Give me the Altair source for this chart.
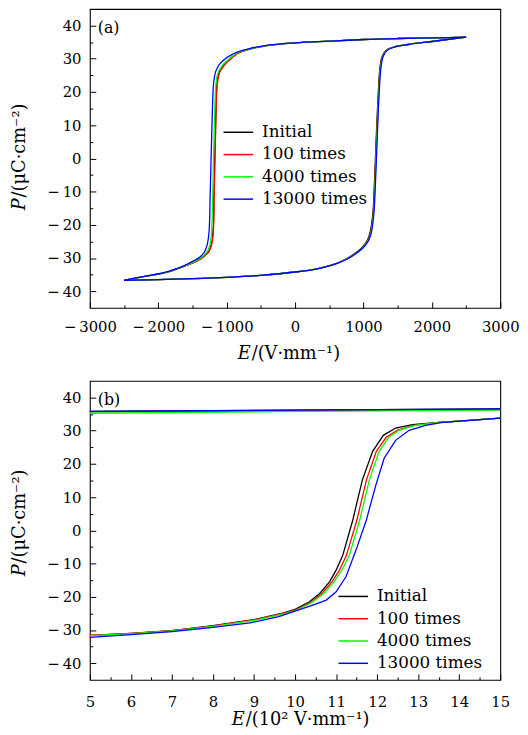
import altair as alt
import pandas as pd

FONT = "DejaVu Serif"
SERIES = ["Initial", "100 times", "4000 times", "13000 times"]
COLORS = ["#000000", "#ff0000", "#00ff00", "#0000ff"]

# ---------------- Panel (a): full loops, E in V/mm, P in uC/cm2 ----------------
A_LOW_P = [-36.7, -36.5, -36.2, -35.8, -35.2, -34.2, -33.3, -32.0, -30.3, -28.5, -26.3, -23.5, -20.3,
           -14.4, -5.0, 5.5, 15.0, 22.0, 25.4, 29.4, 31.2, 32.3, 33.4, 34.3, 35.2, 36.5]
A_LOW_E = {
    "Initial":     [-2500, -2000, -1500, -1000, -500, 0, 300, 550, 745, 880, 1000, 1080, 1115, 1145, 1165,
                    1185, 1205, 1222, 1232, 1255, 1285, 1320, 1420, 1650, 2000, 2500],
    "100 times":   [-2500, -2000, -1500, -1000, -500, 0, 302, 555, 752, 888, 1008, 1088, 1122, 1151, 1171,
                    1190, 1210, 1227, 1238, 1261, 1290, 1325, 1425, 1652, 2000, 2500],
    "4000 times":  [-2500, -2000, -1500, -1000, -500, 0, 305, 560, 758, 894, 1014, 1093, 1127, 1155, 1175,
                    1194, 1213, 1230, 1241, 1265, 1295, 1330, 1430, 1655, 2000, 2500],
    "13000 times": [-2500, -2000, -1500, -1000, -500, 0, 310, 565, 765, 900, 1020, 1098, 1132, 1160, 1180,
                    1200, 1218, 1235, 1246, 1270, 1300, 1335, 1435, 1660, 2000, 2500],
}
A_UP_P = [36.5, 36.3, 36.1, 35.8, 35.3, 34.8, 34.0, 33.0, 31.5, 29.5, 27.5, 25.0, 20.0, 10.0, 0.0,
          -10.0, -20.0, -25.0, -27.5, -29.3, -31.0, -32.3, -34.0, -35.4, -36.7]
A_UP_E = {
    "Initial":     [2500, 2000, 1500, 1000, 500, 0, -400, -650, -850, -975, -1065, -1125, -1150, -1163,
                    -1175, -1185, -1194, -1215, -1250, -1322, -1450, -1600, -1830, -2150, -2500],
    "100 times":   [2500, 2000, 1500, 1000, 500, 0, -395, -645, -845, -965, -1055, -1115, -1146, -1159,
                    -1171, -1181, -1190, -1210, -1245, -1320, -1445, -1595, -1825, -2150, -2500],
    "4000 times":  [2500, 2000, 1500, 1000, 500, 0, -405, -660, -865, -990, -1080, -1138, -1165, -1180,
                    -1192, -1203, -1215, -1236, -1272, -1340, -1465, -1610, -1838, -2155, -2500],
    "13000 times": [2500, 2000, 1500, 1000, 500, 0, -420, -680, -900, -1050, -1130, -1175, -1200, -1215,
                    -1228, -1240, -1252, -1275, -1310, -1370, -1500, -1620, -1850, -2160, -2500],
}

# ---------------- Panel (b): zoom, E in 10^2 V/mm ----------------
B_LOW_E = {
    "Initial":     [4.5, 5.0, 6.0, 7.0, 8.0, 9.0, 9.7, 10.0, 10.35, 10.6, 10.84, 11.0, 11.16, 11.40, 11.64,
                    11.89, 12.15, 12.45, 12.86, 13.5, 14.0, 15.0, 15.5],
    "100 times":   [4.5, 5.0, 6.0, 7.0, 8.0, 9.0, 9.7, 10.0, 10.4, 10.65, 10.9, 11.08, 11.25, 11.50, 11.74,
                    11.98, 12.22, 12.5, 12.9, 13.5, 14.0, 15.0, 15.5],
    "4000 times":  [4.5, 5.0, 6.0, 7.0, 8.0, 9.0, 9.7, 10.0, 10.4, 10.7, 10.95, 11.14, 11.32, 11.57, 11.81,
                    12.05, 12.28, 12.55, 12.92, 13.5, 14.0, 15.0, 15.5],
    "13000 times": [4.5, 5.0, 6.0, 7.0, 8.0, 8.9, 9.6, 10.11, 10.5, 10.76, 11.0, 11.24, 11.48, 11.73, 11.97,
                    12.17, 12.45, 12.78, 13.18, 13.6, 14.0, 15.0, 15.5],
}
B_LOW_P = {
    "Initial":     [-31.8, -31.6, -31.0, -30.2, -28.7, -26.9, -24.9, -23.8, -21.5, -19.0, -15.5, -12.0, -7.6,
                    2.8, 15.2, 23.8, 28.6, 30.8, 31.8, 32.5, 32.9, 33.8, 34.1],
    "100 times":   [-31.8, -31.6, -31.0, -30.2, -28.8, -27.0, -25.0, -24.0, -21.6, -19.0, -15.5, -12.0, -7.6,
                    2.8, 15.2, 23.8, 28.0, 30.2, 31.6, 32.5, 32.9, 33.8, 34.1],
    "4000 times":  [-31.9, -31.7, -31.1, -30.3, -28.9, -27.1, -25.2, -24.2, -21.8, -19.0, -15.5, -12.0, -7.6,
                    2.8, 15.2, 23.8, 28.0, 30.2, 31.6, 32.5, 32.9, 33.8, 34.1],
    "13000 times": [-32.4, -32.2, -31.4, -30.5, -29.2, -27.9, -26.0, -23.9, -22.2, -21.0, -18.5, -14.0, -6.1,
                    2.8, 13.7, 21.7, 27.1, 30.1, 31.6, 32.5, 32.9, 33.8, 34.1],
}
B_UP_E = [4.5, 10.0, 15.5]
B_UP_P = {
    "Initial":     [35.8, 36.2, 36.6],
    "100 times":   [35.6, 36.0, 36.4],
    "4000 times":  [35.2, 35.8, 36.2],
    "13000 times": [35.8, 36.2, 36.6],
}

# tick values
A_X_MAJOR = [-3000, -2000, -1000, 0, 1000, 2000, 3000]
A_X_MINOR = [-2500, -1500, -500, 500, 1500, 2500]
B_X_MAJOR = [5, 6, 7, 8, 9, 10, 11, 12, 13, 14, 15]
B_X_MINOR = [5.5, 6.5, 7.5, 8.5, 9.5, 10.5, 11.5, 12.5, 13.5, 14.5]
Y_MAJOR = [-40, -30, -20, -10, 0, 10, 20, 30, 40]
Y_MINOR = [-35, -25, -15, -5, 5, 15, 25, 35]


def build_a():
    rows = []
    for s in SERIES:
        for e, p in zip(A_LOW_E[s], A_LOW_P):
            rows.append({"series": s, "branch": "low", "E": e, "P": p})
        for e, p in zip(A_UP_E[s], A_UP_P):
            rows.append({"series": s, "branch": "up", "E": e, "P": p})
    return pd.DataFrame(rows)


def build_b():
    rows = []
    for s in SERIES:
        for e, p in zip(B_LOW_E[s], B_LOW_P[s]):
            rows.append({"series": s, "branch": "low", "E": e, "P": p})
        for e, p in zip(B_UP_E, B_UP_P[s]):
            rows.append({"series": s, "branch": "up", "E": e, "P": p})
    return pd.DataFrame(rows)


LABEL_EXPR = "datum.value < 0 ? '\u2212\u2009' + format(-datum.value, 'd') : format(datum.value, 'd')"

W, H = 416, 303
TITLE_SIZE = 18


def major_axis(orient, values, pad):
    return alt.Axis(orient=orient, values=values, offset=-6, tickSize=6, domain=False, grid=False,
                    labelExpr=LABEL_EXPR, labelFont=FONT, labelFontSize=15, labelColor="black",
                    labelPadding=pad, labelFlush=False, labelOverlap=False, title=None,
                    tickColor="black", tickWidth=1)


def minor_axis(orient, values):
    return alt.Axis(orient=orient, values=values, offset=-3, tickSize=3, domain=False, grid=False,
                    labels=False, title=None, tickColor="black", tickWidth=1)


def text_layer(txt, x, y, size=TITLE_SIZE, style="normal", align="left", baseline="alphabetic", angle=0):
    return alt.Chart(pd.DataFrame({"t": [txt]})).mark_text(
        font=FONT, fontSize=size, fontStyle=style, align=align, baseline=baseline,
        angle=angle, color="black").encode(x=alt.value(x), y=alt.value(y), text="t:N")


def panel(df, xdom, xmaj, xmin, interp, legend_xy, tag, xtitle_rest, xj, xty, yj, xpad):
    xs = alt.Scale(domain=xdom, nice=False, zero=False)
    ys = alt.Scale(domain=[-45, 45], nice=False, zero=False)
    legend = alt.Legend(orient="none", legendX=legend_xy[0], legendY=legend_xy[1], title=None,
                        symbolType="M-1.5,0H1.5", symbolSize=400, symbolStrokeWidth=1.5,
                        labelFont=FONT, labelFontSize=17, labelColor="black", labelOffset=13,
                        rowPadding=3.6, padding=0)
    lines = alt.Chart(df).mark_line(strokeWidth=1.3, interpolate=interp, clip=True).encode(
        x=alt.X("E:Q", scale=xs, axis=major_axis("bottom", xmaj, xpad)),
        y=alt.Y("P:Q", scale=ys, axis=major_axis("left", Y_MAJOR, 9)),
        color=alt.Color("series:N", scale=alt.Scale(domain=SERIES, range=COLORS), legend=legend),
        detail="branch:N",
    )
    minor = alt.Chart(pd.DataFrame({"E": [xdom[0]], "P": [0]})).mark_point(opacity=0).encode(
        x=alt.X("E:Q", scale=xs, axis=minor_axis("bottom", xmin)),
        y=alt.Y("P:Q", scale=ys, axis=minor_axis("left", Y_MINOR)),
    )
    texts = [
        text_layer(tag, 8, 19, size=16, baseline="middle"),
        text_layer("E", xj, H + xty, style="italic", align="right"),
        text_layer(xtitle_rest, xj + 1, H + xty),
        text_layer("P", -66, yj, style="italic", align="right", angle=270),
        text_layer("/(\u03bcC\u00b7cm\u207b\u00b2)", -66, yj - 1, align="left", angle=270),
    ]
    return alt.layer(lines, minor, *texts).resolve_axis(x="independent", y="independent").properties(
        width=W, height=H)


pa = panel(build_a(), [-3000, 3000], A_X_MAJOR, A_X_MINOR, "monotone", (139.5, 114), "(a)",
           "/(V\u00b7mm\u207b\u00b9)", 163, 52, 192, 12)
pb = panel(build_b(), [5, 15], B_X_MAJOR, B_X_MINOR, "linear", (256, 207.5), "(b)",
           "/(10\u00b2 V\u00b7mm\u207b\u00b9)", 157, 46, 186, 15)

chart = alt.vconcat(pa, pb, spacing=16).resolve_scale(color="independent").resolve_legend(
    color="independent").properties(
    padding={"left": 2, "top": -5, "right": 0, "bottom": 0}
).configure_view(stroke="black", strokeWidth=1.1)

chart.save("out.html", embed_options={"renderer": "svg", "actions": False})
